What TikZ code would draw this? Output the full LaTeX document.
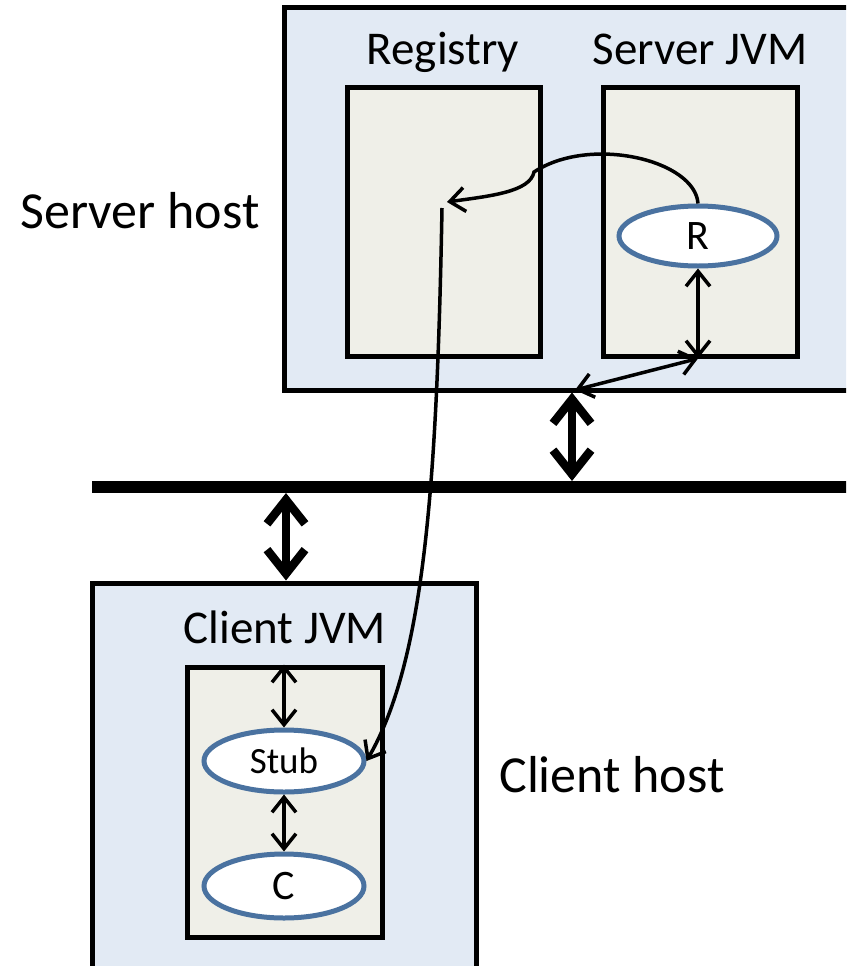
\documentclass[tikz,border=0pt]{standalone}
\usepackage{fontspec}
\setmainfont{Carlito}
\usepackage{xcolor}
\usetikzlibrary{shapes.geometric, arrows.meta, positioning, calc}

\definecolor{hostblue}{HTML}{E2EAF4}
\definecolor{jvmgrey}{HTML}{EFEFE8}
\definecolor{objblue}{HTML}{4A72A0}

\begin{document}
\begin{tikzpicture}[
  x=1pt, y=-1pt,
  host/.style   = {rectangle, draw=black, line width=5pt, fill=hostblue, inner sep=0pt},
  jvm/.style    = {rectangle, draw=black, line width=5pt, fill=jvmgrey, inner sep=0pt},
  obj/.style    = {ellipse, draw=objblue, line width=5pt, fill=white, inner sep=0pt,
                   minimum width=158pt, minimum height=60pt,
                   font=\fontsize{42}{42}\selectfont},
  hlabel/.style = {font=\fontsize{52}{52}\selectfont, anchor=base},
  jlabel/.style = {font=\fontsize{47}{47}\selectfont, anchor=base},
  arr/.style    = {{Straight Barb[length=15pt, width=24pt]}-{Straight Barb[length=15pt, width=24pt]},
                   line width=3.5pt},
  bigarr/.style = {{Straight Barb[length=24pt, width=38pt]}-{Straight Barb[length=24pt, width=38pt]},
                   line width=8.5pt},
  call/.style   = {-{Straight Barb[length=15pt, width=24pt]}, line width=3.5pt},
  netline/.style= {line width=12pt}
]
\useasboundingbox (0,0) rectangle (846,966);
\clip (0,0) rectangle (846,966);

% ── Server host ──────────────────────────────────────────────────────────────
\node[host, minimum width=596pt, minimum height=382pt] (srvhost) at (582,199) {};
\node[jvm, minimum width=193pt, minimum height=269pt] (registry) at (443.5,221.5) {};
\node[jvm, minimum width=194pt, minimum height=269pt] (srvjvm) at (700,221.5) {};
\node[obj] (remote) at (698,236) {R};

\node[hlabel] (srvlbl) at (140,228) {Server host};
\node[jlabel] (reglbl) at (443,65) {Registry};
\node[jlabel] (jvmlbl) at (700,65) {Server JVM};

% ── Client host ──────────────────────────────────────────────────────────────
\node[host, minimum width=384pt, minimum height=418pt] (clihost) at (284,792) {};
\node[jvm, minimum width=195pt, minimum height=270pt] (clijvm) at (284.5,802) {};
\node[obj, minimum width=160pt, minimum height=62pt, font=\fontsize{37}{37}\selectfont]
     (stub) at (284,761) {Stub};
\node[obj, minimum width=160pt, minimum height=64pt] (client) at (284,886) {C};

\node[jlabel] (clijvmlbl) at (285,643) {Client JVM};
\node[hlabel] (clilbl) at (612,792) {Client host};

% ── Network ──────────────────────────────────────────────────────────────────
\coordinate (netw) at (92,487);
\coordinate (nete) at (860,487);
\draw[netline] (netw) -- (nete);

\coordinate (netsrv)  at (572,481);
\coordinate (netcli)  at (286,493);
\coordinate (srvport) at (575,390);

% ── Links ────────────────────────────────────────────────────────────────────
\draw[arr] (remote.south) -- (remote.south |- srvjvm.south);
\draw[arr] (remote.south |- srvjvm.south) -- (srvport);
\draw[bigarr] (netsrv |- srvhost.south) -- (netsrv);
\draw[bigarr] (netcli) -- (netcli |- clihost.north);
\draw[arr] (stub.north |- clijvm.north) -- (stub.north);
\draw[arr] (stub.south) -- (client.north);

% ── Registry calls ───────────────────────────────────────────────────────────
\coordinate (regin)  at (447,202);
\coordinate (regout) at (442,208);
\draw[call] (remote.north) .. controls (695,160) and (590,135) .. (534,172)
            .. controls (530,192) and (490,196) .. (regin);
\draw[call] (regout) .. controls (437,480) and (425,660) .. (stub.east);
\end{tikzpicture}
\end{document}
